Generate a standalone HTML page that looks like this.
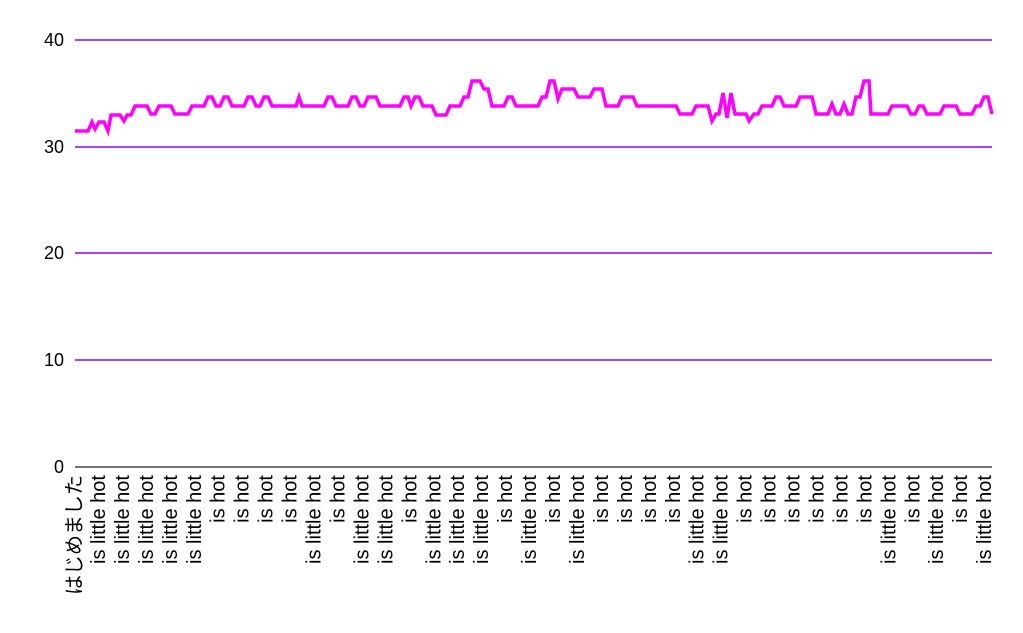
<!DOCTYPE html>
<html><head><meta charset="utf-8"><style>
html,body{margin:0;padding:0;background:#fff;}
svg text{font-family:"Liberation Sans","Noto Sans CJK JP",sans-serif;}
</style></head><body>
<svg width="1023" height="628" viewBox="0 0 1023 628" xmlns="http://www.w3.org/2000/svg">
<g stroke="#9000ff" stroke-width="1.5">
<line x1="75" y1="40" x2="992" y2="40"/>
<line x1="75" y1="147" x2="992" y2="147"/>
<line x1="75" y1="253" x2="992" y2="253"/>
<line x1="75" y1="360" x2="992" y2="360"/>
</g>
<line x1="75" y1="467" x2="992" y2="467" stroke="#444" stroke-width="1.5"/>
<g font-size="18" fill="#000" text-anchor="end">
<text x="64" y="46">40</text>
<text x="64" y="153">30</text>
<text x="64" y="259">20</text>
<text x="64" y="366">10</text>
<text x="64" y="473">0</text>
</g>
<polyline fill="none" stroke="#ff00ff" stroke-width="3.5" stroke-linejoin="miter" points="75,131 88,131 92,122 95,129 99,122 104,122 108,131 111,115 120,115 124,121 127,115 131,115 135,106 147,106 151,114 155,114 159,106 171,106 175,114 188,114 192,106 204,106 208,97 212,97 216,106 220,106 224,97 228,97 232,106 244,106 248,97 252,97 256,106 260,106 264,97 268,97 272,106 296,106 299,97 302,106 324,106 328,97 332,97 336,106 348,106 352,97 356,97 360,106 364,106 368,97 376,97 380,106 400,106 404,97 408,97 411,106 415,97 419,97 423,106 432,106 436,115 446,115 450,106 460,106 464,97 468,97 472,81 480,81 484,89 488,89 492,106 504,106 508,97 512,97 516,106 538,106 542,97 546,97 550,81 554,81 558,99 562,89 574,89 578,97 590,97 594,89 602,89 606,106 618,106 622,97 633,97 637,106 676,106 680,114 692,114 696,106 708,106 712,121 716,114 719,114 723,93 727,118 731,93 735,114 746,114 749,121 754,114 758,114 762,106 772,106 776,97 780,97 784,106 796,106 800,97 812,97 816,114 828,114 832,104 836,114 840,114 844,104 848,114 852,114 856,97 860,97 864,81 869,81 871,114 888,114 892,106 907,106 911,114 915,114 919,106 923,106 927,114 940,114 944,106 956,106 960,114 972,114 976,106 980,106 984,97 988,97 992,114"/>
<g id="labels" font-size="20" fill="#000" text-anchor="end"></g>
<script>
var L=["はじめました"],l="is little hot",h="is hot";
[l,l,l,l,l,h,h,h,h,l,h,l,l,h,l,l,l,h,l,h,l,h,h,h,h,l,l,h,h,h,h,h,h,l,h,l,h,l].forEach(function(s){L.push(s)});
var g=document.getElementById("labels"),ns="http://www.w3.org/2000/svg";
L.forEach(function(s,i){var x=75+i*23.95+6;var t=document.createElementNS(ns,"text");t.setAttribute("transform","translate("+x+",475) rotate(-90)");t.textContent=s;g.appendChild(t);});
</script>
</svg>
</body></html>
